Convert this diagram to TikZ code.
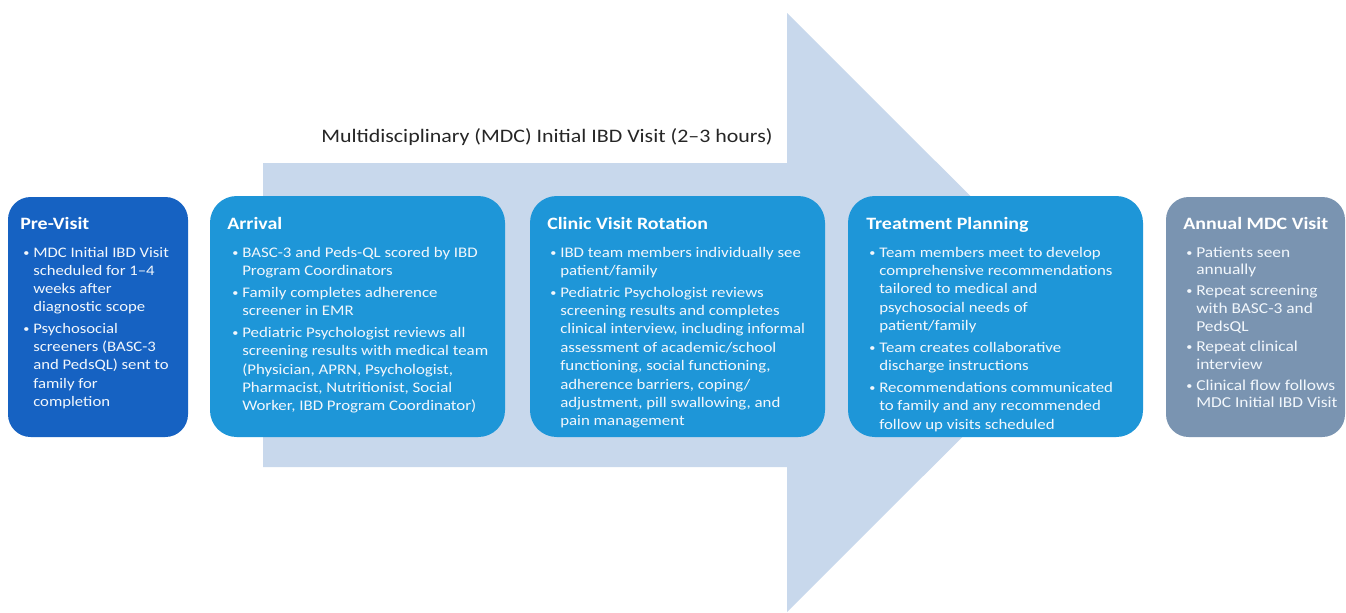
\documentclass[tikz,border=0pt]{standalone}
\usepackage{fontspec}
\setmainfont{Carlito}[FakeStretch=1.15]
\usetikzlibrary{fit}
\definecolor{ArrowL} {RGB}{200,216,236}
\definecolor{BlueD}  {RGB}{22,  98, 194}
\definecolor{BlueM}  {RGB}{30, 150, 216}
\definecolor{SlateB} {RGB}{122,148, 177}
\definecolor{TextW}  {RGB}{242,247, 252}
\newcommand{\bitem}[1]{\par\hangindent=7.5pt\hangafter=1\noindent
  \makebox[7.5pt][l]{\raisebox{0.6pt}{\fontsize{8}{8}\selectfont\textbullet}}#1}
\newcommand{\blist}[5]{\begin{minipage}[t]{#1}\raggedright\let\\\newline
  \fontsize{#2}{#3}\selectfont\setlength{\parskip}{#4}#5\end{minipage}}

\begin{document}
\begin{tikzpicture}[x=0.75pt,y=-0.75pt,
    stage/.style={rounded corners=20pt,inner sep=0pt},
    stagehead/.style={anchor=base west,inner sep=0pt,text=white,
      font=\fontsize{13}{15}\selectfont\bfseries},
    stagetext/.style={anchor=base west,inner sep=0pt,text=TextW}]
  \useasboundingbox (0,0) rectangle (1346,612);
  \fill[white] (0,0) rectangle (1346,612);
  \fill[ArrowL] (263,163) -- (787,163) -- (787,13) -- (1087,312.5)
    -- (787,612) -- (787,467) -- (263,467) -- cycle;
  \node[font=\fontsize{14.3}{17}\selectfont,text=black!85] (title) at (547,137)
    {Multidisciplinary (MDC) Initial IBD Visit (2--3 hours)};

  \node[stage,fill=BlueD,rounded corners=17pt,fit={(8,197)(188,437)}] (pre) {};
  \foreach \x/\n in {210/arr,530/cli,848/trt}
    \node[stage,fill=BlueM,fit={(\x,196)(\x+295,437)}] (\n) {};
  \node[stage,fill=SlateB,rounded corners=17pt,fit={(1166,197)(1345,437)}] (ann) {};

  \node[stagehead] (preHead) at (20,229) {Pre-Visit};
  \node[stagetext] (preText) at (23,257) {\blist{135pt}{10.9}{13.7}{2.5pt}{%
    \bitem{MDC Initial IBD Visit\\scheduled for 1--4\\weeks after\\diagnostic scope}
    \bitem{Psychosocial\\screeners (BASC-3\\and PedsQL) sent to\\family for\\completion}}};

  \node[stagehead] (arrHead) at (227,229) {Arrival};
  \node[stagetext] (arrText) at (232,257) {\blist{225pt}{11}{13.8}{2.5pt}{%
    \bitem{BASC-3 and Peds-QL scored by IBD\\Program Coordinators}
    \bitem{Family completes adherence\\screener in EMR}
    \bitem{Pediatric Psychologist reviews all\\screening results with medical team\\(Physician, APRN, Psychologist,\\Pharmacist, Nutritionist, Social\\Worker, IBD Program Coordinator)}}};

  \node[stagehead] (cliHead) at (547,229) {Clinic Visit Rotation};
  \node[stagetext] (cliText) at (550,257) {\blist{225pt}{11}{13.8}{2.5pt}{%
    \bitem{IBD team members individually see\\patient/family}
    \bitem{Pediatric Psychologist reviews\\screening results and completes\\clinical interview, including informal\\assessment of academic/school\\functioning, social functioning,\\adherence barriers, coping/\\adjustment, pill swallowing, and\\pain management}}};

  \node[stagehead] (trtHead) at (866,229) {Treatment Planning};
  \node[stagetext] (trtText) at (869,257) {\blist{225pt}{11}{13.8}{2.5pt}{%
    \bitem{Team members meet to develop\\comprehensive recommendations\\tailored to medical and\\psychosocial needs of\\patient/family}
    \bitem{Team creates collaborative\\discharge instructions}
    \bitem{Recommendations communicated\\to family and any recommended\\follow up visits scheduled}}};

  \node[stagehead] (annHead) at (1183,229) {Annual MDC Visit};
  \node[stagetext] (annText) at (1186,257) {\blist{135pt}{11.35}{13.4}{2pt}{%
    \bitem{Patients seen\\annually}
    \bitem{Repeat screening\\with BASC-3 and\\PedsQL}
    \bitem{Repeat clinical\\interview}
    \bitem{Clinical flow follows\\MDC Initial IBD Visit}}};
\end{tikzpicture}
\end{document}
